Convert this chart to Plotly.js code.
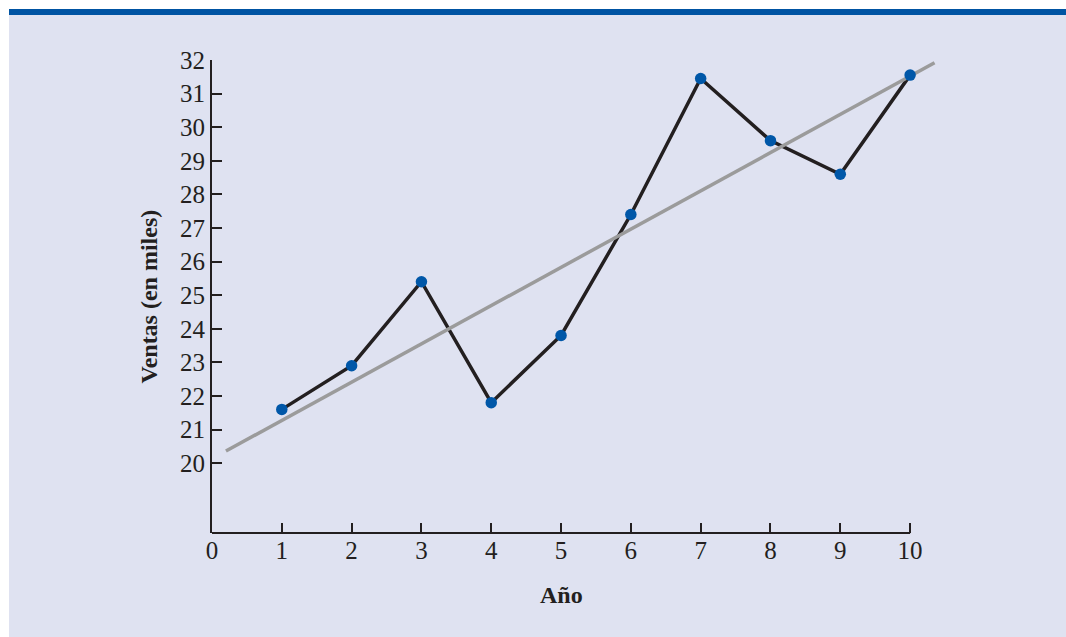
<!DOCTYPE html>
<html>
<head>
<meta charset="utf-8">
<script src="https://cdn.plot.ly/plotly-3.0.1.min.js"></script>
<style>
html, body { margin: 0; padding: 0; background: #ffffff; }
#chart { width: 1066px; height: 637px; }
</style>
</head>
<body>
<div id="chart"></div>
<script>
// Data
const years = [1, 2, 3, 4, 5, 6, 7, 8, 9, 10];
const sales = [21.6, 22.9, 25.4, 21.8, 23.8, 27.4, 31.45, 29.6, 28.6, 31.55];
const trendX = [0.2, 10.35];
const trendY = [20.36, 31.92];
const xTicks = [0, 1, 2, 3, 4, 5, 6, 7, 8, 9, 10];
const yTicks = [20, 21, 22, 23, 24, 25, 26, 27, 28, 29, 30, 31, 32];
const xTitle = 'Año';
const yTitle = 'Ventas (en miles)';

// Layout geometry (pixels)
const W = 1066, H = 637;
const L = 212, R = 945, T = 60, B = 533;
const pw = R - L, ph = B - T;
const px = v => (v - L) / pw;       // pixel x -> paper x
const py = v => (B - v) / ph;       // pixel y -> paper y

const ink = '#231f20';
const font = 'Liberation Serif, Times New Roman, serif';
const yMin = 17.92, yMax = 32;

const traces = [
  { x: years, y: sales, type: 'scatter', mode: 'lines',
    line: { color: ink, width: 3.5 }, hoverinfo: 'skip', showlegend: false },
  { x: trendX, y: trendY, type: 'scatter', mode: 'lines',
    line: { color: '#9b9b9b', width: 3.5 }, hoverinfo: 'skip', showlegend: false },
  { x: years, y: sales, type: 'scatter', mode: 'markers',
    marker: { color: '#0057a8', size: 11.5 }, cliponaxis: false, showlegend: false }
];

const layout = {
  width: W, height: H,
  margin: { l: L, r: W - R, t: T, b: H - B, pad: 0 },
  paper_bgcolor: '#ffffff',
  plot_bgcolor: 'rgba(0,0,0,0)',
  showlegend: false,
  font: { family: font, color: ink, size: 23 },
  xaxis: {
    range: [0, 10.5], tickvals: xTicks, ticktext: xTicks.map(String),
    showline: false, showgrid: false, zeroline: false,
    ticks: 'inside', ticklen: 10, tickwidth: 2, tickcolor: ink,
    tickfont: { family: font, size: 25, color: ink }
  },
  yaxis: {
    range: [yMin, yMax], tickvals: yTicks, ticktext: yTicks.map(String),
    showline: true, linecolor: ink, linewidth: 2, showgrid: false, zeroline: false,
    ticks: 'inside', ticklen: 10, tickwidth: 2, tickcolor: ink,
    tickfont: { family: font, size: 25, color: ink }
  },
  shapes: [
    { type: 'rect', xref: 'paper', yref: 'paper', layer: 'below',
      x0: px(9), x1: px(1066), y0: py(637), y1: py(15),
      fillcolor: '#dfe2f1', line: { width: 0 } },
    { type: 'rect', xref: 'paper', yref: 'paper', layer: 'below',
      x0: px(9), x1: px(1066), y0: py(15), y1: py(9),
      fillcolor: '#0054a3', line: { width: 0 } },
    { type: 'line', xref: 'x', yref: 'paper', x0: 0, x1: 10, y0: 0, y1: 0,
      line: { color: ink, width: 2 } }
  ],
  annotations: [
    { text: '<b>' + xTitle + '</b>', xref: 'x', yref: 'paper', x: 5, y: py(595),
      xanchor: 'center', yanchor: 'middle', showarrow: false,
      font: { family: font, size: 24, color: ink } },
    { text: '<b>' + yTitle + '</b>', xref: 'paper', yref: 'paper', x: px(148), y: 0.5,
      xanchor: 'center', yanchor: 'middle', textangle: -90, showarrow: false,
      font: { family: font, size: 24, color: ink } }
  ]
};

Plotly.newPlot('chart', traces, layout, { displayModeBar: false, staticPlot: true });
</script>
</body>
</html>
